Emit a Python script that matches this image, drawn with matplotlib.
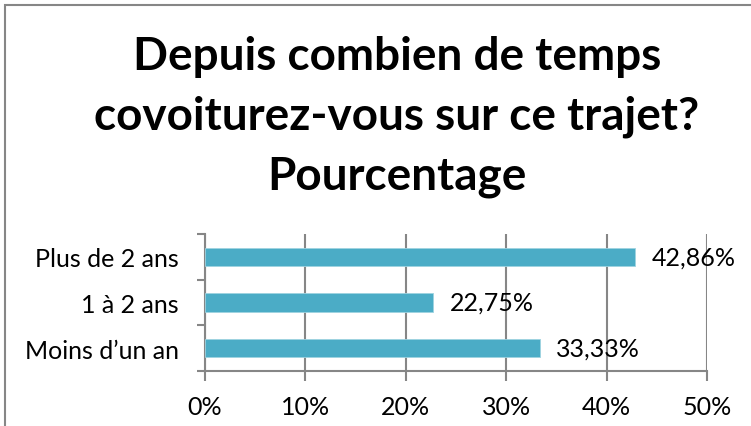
import numpy as np
import matplotlib
matplotlib.use("Agg")
import matplotlib.pyplot as plt
from matplotlib.patches import Rectangle

plt.rcParams['font.family'] = ['Lato', 'DejaVu Sans']

categories = ['Moins d’un an', '1 à 2 ans', 'Plus de 2 ans']
values = [33.33, 22.75, 42.86]
labels = ['33,33%', '22,75%', '42,86%']
xticks = [0, 10, 20, 30, 40, 50]
title = 'Depuis combien de temps\ncovoiturez-vous sur ce trajet?\nPourcentage'

W, H = 751, 427
fig = plt.figure(figsize=(W / 100, H / 100), dpi=100)
grey = '#868686'

# chart frame (cut off on the right and bottom)
fig.patches.append(Rectangle((5 / W, -0.1), 1.2, (H - 6) / H + 0.1,
                             transform=fig.transFigure, fill=False,
                             edgecolor=grey, lw=1.5))

ax = fig.add_axes([205 / W, 55 / H, 502 / W, 137 / H])
y = np.arange(len(categories))
ax.barh(y, values, height=0.4, color='#4BACC6', edgecolor='#9fd3e0', lw=0.6, zorder=3)
for yi, v, lab in zip(y, values, labels):
    ax.text(v + 1.6, yi, lab, va='center', ha='left', fontsize=18, zorder=4)

ax.set_xlim(0, 50)
ax.set_ylim(-0.5, 2.5)
ax.set_xticks(xticks)
ax.set_xticklabels([f'{t}%' for t in xticks], fontsize=18)
ax.set_yticks(y)
ax.set_yticklabels(categories, fontsize=18)
ax.set_yticks([-0.5, 0.5, 1.5, 2.5], minor=True)
ax.tick_params(axis='y', which='major', length=0, pad=19)
ax.tick_params(axis='y', which='minor', length=6, color=grey, width=1.5)
ax.tick_params(axis='x', length=7, color=grey, width=1.5, pad=10)
ax.grid(axis='x', color=grey, lw=1.5, zorder=0)
for s in ['top', 'right']:
    ax.spines[s].set_visible(False)
for s in ['left', 'bottom']:
    ax.spines[s].set_color(grey)
    ax.spines[s].set_linewidth(1.5)

fig.text(397 / W, 1 - 117 / H, title, ha='center', va='center',
         fontsize=33, fontweight='bold', linespacing=1.5)

fig.savefig('out.png', dpi=100)
